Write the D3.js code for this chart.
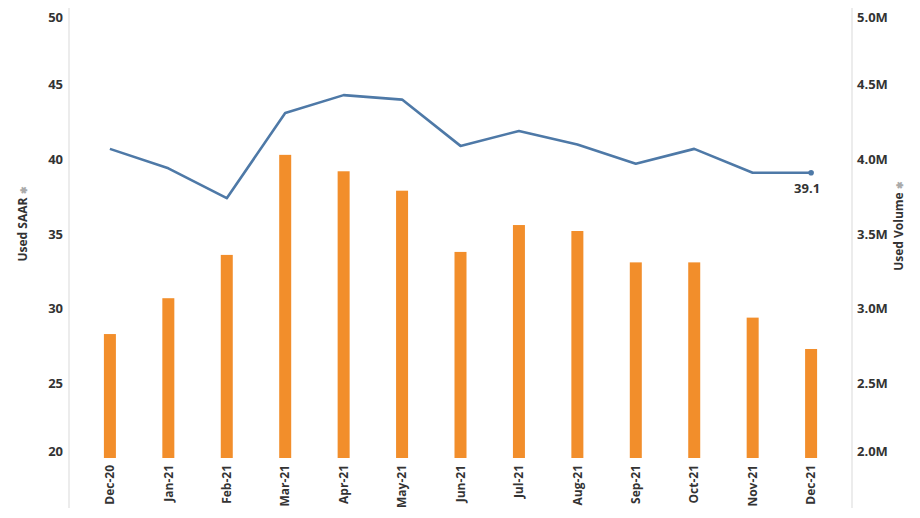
<!DOCTYPE html>
<html>
<head>
<meta charset="utf-8">
<script src="https://cdn.jsdelivr.net/npm/d3@7"></script>
<style>
  body { margin: 0; background: #fff; }
  text { font-family: "Open Sans", "Noto Sans", sans-serif; }
</style>
</head>
<body>
<script>
// months on the x axis
let months = ["Dec-20","Jan-21","Feb-21","Mar-21","Apr-21","May-21","Jun-21","Jul-21","Aug-21","Sep-21","Oct-21","Nov-21","Dec-21"];
// Used SAAR (line, left axis)
let saar = [40.7, 39.4, 37.4, 43.1, 44.3, 44.0, 40.9, 41.9, 41.0, 39.7, 40.7, 39.1, 39.1];
// Used Volume (bars, right axis)
let volume = [2.83e6, 3.07e6, 3.36e6, 4.03e6, 3.92e6, 3.79e6, 3.38e6, 3.56e6, 3.52e6, 3.31e6, 3.31e6, 2.94e6, 2.73e6];
let leftTicks = [20, 25, 30, 35, 40, 45, 50];
let rightTicks = [2.0e6, 2.5e6, 3.0e6, 3.5e6, 4.0e6, 4.5e6, 5.0e6];

let W = 920, H = 518;
let axL = 69, axR = 852, yTop = 10, yBot = 458;

let svg = d3.select("body").append("svg")
    .attr("width", W).attr("height", H);

let x = d3.scalePoint().domain(months).range([axL, axR]).padding(0.7);
let yL = d3.scaleLinear().domain([20, 50]).range([yBot, yTop]);
let yR = d3.scaleLinear().domain([2.0e6, 5.0e6]).range([yBot, yTop]);

// axis lines
svg.append("line").attr("x1", axL).attr("x2", axL).attr("y1", 8).attr("y2", 508)
    .attr("stroke", "#d9d9d9").attr("stroke-width", 1);
svg.append("line").attr("x1", axR).attr("x2", axR).attr("y1", 8).attr("y2", 508)
    .attr("stroke", "#d9d9d9").attr("stroke-width", 1);

// tick labels (top/bottom ones nudged inward like the original)
function nudge(i, n) { return i === 0 ? -7 : (i === n - 1 ? 7 : 0); }
svg.selectAll("text.lt").data(leftTicks).enter().append("text")
    .attr("class", "lt")
    .attr("x", 63).attr("y", (d, i) => yL(d) + nudge(i, leftTicks.length))
    .attr("dy", "0.35em").attr("text-anchor", "end")
    .attr("font-size", 13).attr("font-weight", "bold").attr("fill", "#333")
    .text(d => d);
svg.selectAll("text.rt").data(rightTicks).enter().append("text")
    .attr("class", "rt")
    .attr("x", 857).attr("y", (d, i) => yR(d) + nudge(i, rightTicks.length))
    .attr("dy", "0.35em").attr("text-anchor", "start")
    .attr("font-size", 13).attr("font-weight", "bold").attr("fill", "#333")
    .text(d => d3.format(".1f")(d / 1e6) + "M");

// axis titles
let tl = svg.append("text").attr("transform", "translate(27,224) rotate(-90)")
    .attr("text-anchor", "middle").attr("font-size", 12).attr("font-weight", "bold").attr("fill", "#333");
tl.append("tspan").text("Used SAAR ");
tl.append("tspan").attr("fill", "#aaa").attr("font-size", 9).text("✱");
let tr = svg.append("text").attr("transform", "translate(903,226) rotate(-90)")
    .attr("text-anchor", "middle").attr("font-size", 12).attr("font-weight", "bold").attr("fill", "#333");
tr.append("tspan").text("Used Volume ");
tr.append("tspan").attr("fill", "#aaa").attr("font-size", 9).text("✱");

// bars
let bw = 12;
svg.selectAll("rect.bar").data(volume).enter().append("rect")
    .attr("class", "bar")
    .attr("x", (d, i) => x(months[i]) - bw / 2)
    .attr("y", d => yR(d))
    .attr("width", bw)
    .attr("height", d => yBot - yR(d))
    .attr("fill", "#f28e2b");

// line
let line = d3.line().x((d, i) => x(months[i])).y(d => yL(d));
svg.append("path").datum(saar)
    .attr("d", line).attr("fill", "none")
    .attr("stroke", "#4e79a7").attr("stroke-width", 2.6)
    .attr("stroke-linejoin", "round");
let last = saar.length - 1;
svg.append("circle").attr("cx", x(months[last])).attr("cy", yL(saar[last]))
    .attr("r", 2.8).attr("fill", "#4e79a7");
svg.append("text").attr("x", x(months[last]) - 4).attr("y", yL(saar[last]) + 20)
    .attr("text-anchor", "middle").attr("font-size", 13).attr("font-weight", "bold").attr("fill", "#333")
    .text(saar[last]);

// x labels
svg.selectAll("text.xl").data(months).enter().append("text")
    .attr("class", "xl")
    .attr("transform", d => `translate(${x(d)},465) rotate(-90)`)
    .attr("dy", "0.35em").attr("text-anchor", "end")
    .attr("font-size", 12).attr("font-weight", "bold").attr("fill", "#333")
    .text(d => d);
</script>
</body>
</html>
